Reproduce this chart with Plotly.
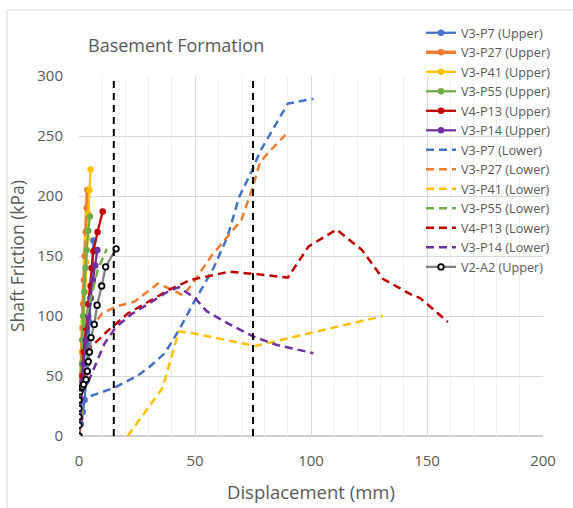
import plotly.graph_objects as go

# ---------------- data ----------------
p7_up_x = [0, 0.8, 1.6, 2.4, 3.0, 3.5, 4.0, 4.5, 5.0, 5.5, 6.2]
p7_up_y = [0, 10, 20, 30, 45, 60, 75, 95, 115, 140, 163]

p27_up_x = [0, 0.3, 0.6, 0.9, 1.2, 1.5, 1.8, 2.1, 2.5, 2.9, 3.3, 3.6]
p27_up_y = [0, 15, 30, 50, 70, 90, 110, 130, 150, 170, 190, 205]

p41_up_x = [0, 0.5, 1.0, 1.5, 2.0, 2.5, 3.0, 3.5, 4.0, 4.5, 5.0]
p41_up_y = [0, 20, 45, 70, 95, 120, 145, 165, 185, 205, 222]

p55_up_x = [0, 0.3, 0.6, 1.0, 1.4, 1.8, 2.3, 2.8, 3.3, 4.0, 4.7]
p55_up_y = [0, 20, 40, 60, 80, 100, 120, 140, 155, 171, 183]

p13_up_x = [0, 0.5, 1.0, 1.5, 2.0, 3.0, 4.0, 5.0, 5.5, 6.2, 8.0, 10.2]
p13_up_y = [0, 15, 30, 50, 70, 90, 110, 125, 140, 154, 170, 187]

p14_up_x = [0, 0.5, 1.0, 1.5, 2.0, 3.0, 4.0, 5.0, 6.0, 7.0, 7.9]
p14_up_y = [0, 15, 30, 45, 60, 80, 100, 115, 130, 142, 155]

p7_lo_x = [1.5, 3, 15, 25, 30, 37, 43, 50, 58, 64, 69, 75, 78, 85, 90, 101]
p7_lo_y = [26, 32, 40, 50, 57, 69, 88, 113, 140, 166, 199, 223, 237, 260, 277, 281]

p27_lo_x = [8, 10, 16, 24, 34, 40, 45, 50, 57, 64, 70, 75, 78, 82, 89]
p27_lo_y = [97, 102, 108, 112, 127, 122, 117, 130, 150, 166, 180, 208, 228, 237, 251]

p41_lo_x = [21, 36, 43, 48, 76, 131]
p41_lo_y = [0, 40, 87, 86, 75, 100]

p55_lo_x = [2, 5, 8, 12]
p55_lo_y = [90, 115, 138, 156]

p13_lo_x = [3, 12, 21, 39, 48, 55, 65, 76, 90, 99, 111, 122, 131, 143, 147, 159]
p13_lo_y = [70, 87, 102, 122, 130, 133, 137, 135, 132, 158, 172, 155, 131, 118, 115, 95]

p14_lo_x = [4, 7, 11, 16, 23, 29, 38, 43, 50, 55, 64, 75, 85, 101]
p14_lo_y = [45, 59, 77, 91, 102, 109, 120, 124, 115, 104, 94, 83, 76, 69]

a2_up_x = [0, 0, 0, 0, 0, 0.5, 1.0, 1.5, 2.0, 3.0, 3.6, 4.0, 4.5, 5.2, 6.6, 7.8, 9.8, 11.5, 16]
a2_up_y = [0, 9, 16, 23, 30, 37, 40, 41, 43, 47, 54, 62, 70, 82, 93, 109, 125, 141, 156]

limit_x = [15, 75]
limit_y = [0, 300]

# ---------------- styles ----------------
BLUE, ORANGE, YELLOW, GREEN, RED, PURPLE = "#4472C4", "#ED7D31", "#FFC000", "#70AD47", "#C00000", "#7030A0"
FONT = "Open Sans"
TXT = "#595959"

fig = go.Figure()

uppers = [
    ("V3-P7 (Upper)", p7_up_x, p7_up_y, BLUE, 2.25),
    ("V3-P27 (Upper)", p27_up_x, p27_up_y, ORANGE, 3.5),
    ("V3-P41 (Upper)", p41_up_x, p41_up_y, YELLOW, 2.25),
    ("V3-P55 (Upper)", p55_up_x, p55_up_y, GREEN, 2.25),
    ("V4-P13 (Upper)", p13_up_x, p13_up_y, RED, 2.25),
    ("V3-P14 (Upper)", p14_up_x, p14_up_y, PURPLE, 2.25),
]
for name, xs, ys, c, w in uppers:
    fig.add_trace(go.Scatter(x=xs, y=ys, name=name, mode="lines+markers",
                             line=dict(color=c, width=w),
                             marker=dict(color=c, size=6.5, symbol="circle")))

lowers = [
    ("V3-P7 (Lower)", p7_lo_x, p7_lo_y, BLUE),
    ("V3-P27 (Lower)", p27_lo_x, p27_lo_y, ORANGE),
    ("V3-P41 (Lower)", p41_lo_x, p41_lo_y, YELLOW),
    ("V3-P55 (Lower)", p55_lo_x, p55_lo_y, GREEN),
    ("V4-P13 (Lower)", p13_lo_x, p13_lo_y, RED),
    ("V3-P14 (Lower)", p14_lo_x, p14_lo_y, PURPLE),
]
for name, xs, ys, c in lowers:
    fig.add_trace(go.Scatter(x=xs, y=ys, name=name, mode="lines",
                             line=dict(color=c, width=2.5, dash="8px,5px")))

fig.add_trace(go.Scatter(x=a2_up_x, y=a2_up_y, name="V2-A2 (Upper)", mode="lines+markers",
                         line=dict(color="#7F7F7F", width=2.25),
                         marker=dict(color="white", size=5.5, symbol="circle",
                                     line=dict(color="black", width=1.8))))

for lx in limit_x:
    fig.add_trace(go.Scatter(x=[lx, lx], y=limit_y, mode="lines", showlegend=False,
                             hoverinfo="skip",
                             line=dict(color="black", width=2, dash="7px,5px")))

L, R, T, B = 79, 30, 76, 72
W, H = 573, 508
pw, ph = W - L - R, H - T - B

def px2paper_x(px):
    return (px - L) / pw

def px2paper_y(py):
    return (H - B - py) / ph

fig.update_layout(
    width=W, height=H,
    margin=dict(l=L, r=R, t=T, b=B),
    paper_bgcolor="white", plot_bgcolor="white",
    font=dict(family=FONT, color=TXT),
    showlegend=True,
    legend=dict(x=px2paper_x(421), y=px2paper_y(18), xanchor="left", yanchor="top",
                bgcolor="rgba(0,0,0,0)", font=dict(size=12.7, color=TXT, family=FONT),
                tracegroupgap=0, itemwidth=30, maxheight=1.0),
    xaxis=dict(range=[0, 200], dtick=50, tick0=0, showgrid=True, gridcolor="#D9D9D9",
               gridwidth=1, zeroline=False, showline=False,
               minor=dict(dtick=10, showgrid=True, gridcolor="#F0F0F0", gridwidth=1),
               tickfont=dict(size=15, color=TXT), ticks="", ticklabelstandoff=14),
    yaxis=dict(range=[0, 300], dtick=50, tick0=0, showgrid=True, gridcolor="#D9D9D9",
               gridwidth=1, zeroline=False, showline=False,
               tickfont=dict(size=15, color=TXT), ticks="", ticklabelstandoff=15),
    shapes=[
        dict(type="line", xref="paper", yref="paper", x0=0, x1=1, y0=0, y1=0,
             line=dict(color="#BFBFBF", width=1.5), layer="below"),
        dict(type="line", xref="paper", yref="paper", x0=px2paper_x(7), x1=px2paper_x(7),
             y0=px2paper_y(10), y1=px2paper_y(520), line=dict(color="#D9D9D9", width=1)),
        dict(type="line", xref="paper", yref="paper", x0=px2paper_x(7), x1=px2paper_x(580),
             y0=px2paper_y(10), y1=px2paper_y(10), line=dict(color="#D9D9D9", width=1)),
    ],
    annotations=[
        dict(text="Basement Formation", xref="paper", yref="paper",
             x=px2paper_x(86), y=px2paper_y(45), xanchor="left", yanchor="middle",
             showarrow=False, font=dict(size=18, color=TXT, family=FONT)),
        dict(text="Displacement (mm)", xref="paper", yref="paper",
             x=px2paper_x(311), y=px2paper_y(492), xanchor="center", yanchor="middle",
             showarrow=False, font=dict(size=18.5, color=TXT, family=FONT)),
        dict(text="Shaft Friction (kPa)", xref="paper", yref="paper",
             x=px2paper_x(17), y=px2paper_y(256), xanchor="center", yanchor="middle",
             textangle=-90, showarrow=False, font=dict(size=17.5, color=TXT, family=FONT)),
    ],
)

fig.write_html("out.html")
